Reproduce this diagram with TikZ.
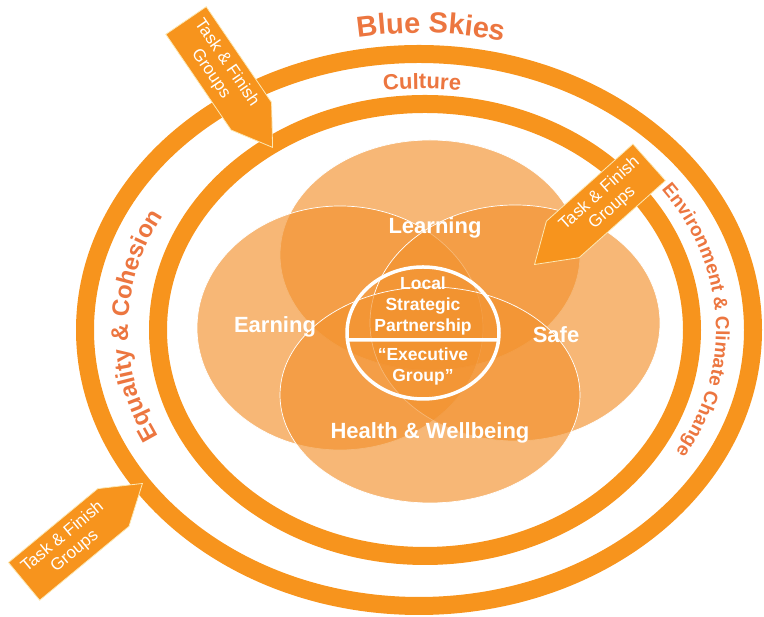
\documentclass[tikz,border=0pt]{standalone}
\usepackage{fontspec}
\setmainfont{Liberation Sans}
\usetikzlibrary{shapes.arrows,decorations.text}
\definecolor{ringorange}{RGB}{247,148,29}
\definecolor{vennorange}{RGB}{242,145,45}
\definecolor{ringlabel}{RGB}{236,118,64}
\definecolor{arrowedge}{RGB}{252,232,180}
\newcommand\skyfont{\bfseries\fontsize{29}{29}\selectfont}
\newcommand\culturefont{\bfseries\fontsize{22}{22}\selectfont}
\newcommand\equalityfont{\bfseries\fontsize{24}{24}\selectfont}
\newcommand\climatefont{\bfseries\fontsize{19}{19}\selectfont}
\tikzset{
  ring/.style={draw=ringorange, line width=18pt},
  petal/.style={fill=vennorange, fill opacity=.65, draw=white, line width=.7pt},
  petallabel/.style={text=white, font=\bfseries\fontsize{22}{24}\selectfont},
  corelabel/.style={text=white, align=center, font=\bfseries\fontsize{17.5}{21}\selectfont},
  ringtext/.style={decorate, decoration={text along path, text align=center, text color=ringlabel, text={#1}}},
  taskarrow/.style={single arrow, single arrow head extend=0pt, single arrow tip angle=66,
    minimum width=49pt, minimum height=150pt, inner xsep=7pt, inner ysep=6pt,
    fill=ringorange, draw=arrowedge, line width=.8pt, text=white, align=center,
    font=\fontsize{17}{19}\selectfont, anchor=tip}
}
\begin{document}
\begin{tikzpicture}[x=1pt, y=1pt]
\useasboundingbox (0,0) rectangle (764,617);
\draw[ring] (419,287) ellipse [x radius=334, y radius=276];
\draw[ring] (425,287) ellipse [x radius=267, y radius=226];
\foreach \cx/\cy/\rx/\ry in {430/362/150/115, 340/289/143/122, 515/294/145/118, 430/222/150/108}
  \draw[petal] (\cx,\cy) ellipse [x radius=\rx, y radius=\ry];
\draw[white, line width=3.5pt] (423,284) ellipse [x radius=76, y radius=66] (347.4,277) -- (498.6,277);
\node[petallabel] (learning) at (435,389) {Learning};
\node[petallabel] (earning) at (275,290) {Earning};
\node[petallabel] (safe) at (556,282) {Safe};
\node[petallabel] (health) at (430,184) {Health \& Wellbeing};
\node[corelabel] (lsp) at (423,311) {Local\\Strategic\\Partnership};
\node[corelabel] (exec) at (423,251) {“Executive\\Group”};
\path[ringtext={|\skyfont|Blue Skies}] (420,287) ++({360*cos(103.25)},{297*sin(103.25)})
  arc [start angle=103.25, end angle=73.25, x radius=360, y radius=297];
\path[ringtext={|\culturefont|Culture}] (422,287) ++({294*cos(110)},{241*sin(110)})
  arc [start angle=110, end angle=70, x radius=294, y radius=241];
\path[ringtext={|\equalityfont|Equality {\&} Cohesion}] (422,287) ++({294*cos(219)},{241*sin(219)})
  arc [start angle=219, end angle=139, x radius=294, y radius=241];
\path[ringtext={|\climatefont|Environment {\&} Climate Change}] (422,287) ++({294*cos(47)},{241*sin(47)})
  arc [start angle=47, end angle=-42, x radius=294, y radius=241];
\node[taskarrow, rotate=-55.7] (taskA) at (273,469) {Task \& Finish\\Groups};
\node[taskarrow, rotate=41.7, shape border rotate=180] (taskB) at (534,352) {Task \& Finish\\Groups};
\node[taskarrow, rotate=39.6] (taskC) at (143,134) {Task \& Finish\\Groups};
\end{tikzpicture}
\end{document}
